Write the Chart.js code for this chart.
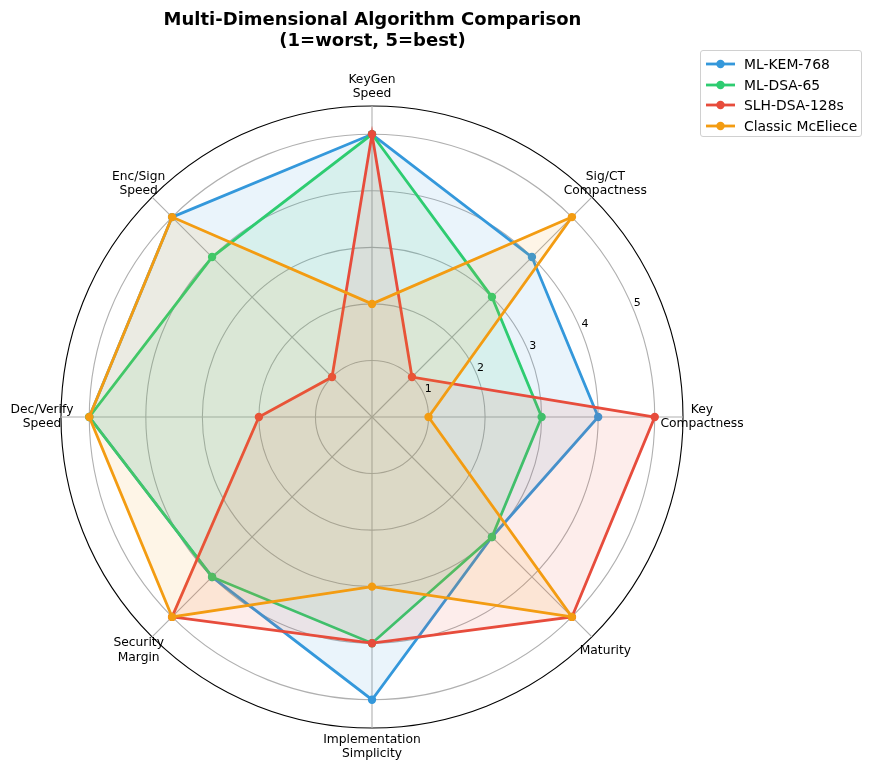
<!DOCTYPE html>
<html>
<head>
<meta charset="utf-8">
<script src="https://cdn.jsdelivr.net/npm/chart.js@4"></script>
<style>
  html, body { margin: 0; padding: 0; background: #fff; }
  #wrap { position: relative; width: 873px; height: 771px; overflow: hidden; font-family: "DejaVu Sans", sans-serif; }
  #c { position: absolute; left: 0; top: 0; }
  #title { position: absolute; left: 0; top: 8px; width: 745px; text-align: center; font-weight: bold; font-size: 18px; line-height: 21px; color: #000; }
  #legend { position: absolute; left: 700px; top: 50px; width: 160px; height: 85px; border: 1px solid #d0d0d0; border-radius: 3px; background: rgba(255,255,255,0.8); }
  .row { position: absolute; left: 5px; height: 20px; display: flex; align-items: center; font-size: 13.9px; color: #000; white-space: nowrap; }
  .row svg { margin-right: 9px; }
</style>
</head>
<body>
<div id="wrap">
  <canvas id="c" width="873" height="771"></canvas>
  <div id="title">Multi-Dimensional Algorithm Comparison<br>(1=worst, 5=best)</div>
  <div id="legend"></div>
</div>
<script>
// ---- data ----
const categories = [
  ['KeyGen', 'Speed'],
  ['Sig/CT', 'Compactness'],
  ['Key', 'Compactness'],
  ['Maturity'],
  ['Implementation', 'Simplicity'],
  ['Security', 'Margin'],
  ['Dec/Verify', 'Speed'],
  ['Enc/Sign', 'Speed']
];
const seriesNames = ['ML-KEM-768', 'ML-DSA-65', 'SLH-DSA-128s', 'Classic McEliece'];
const mlKem768 = [5, 4, 4, 3, 5, 4, 5, 5];
const mlDsa65 = [5, 3, 3, 3, 4, 4, 5, 4];
const slhDsa128s = [5, 1, 5, 5, 4, 5, 2, 1];
const classicMcEliece = [2, 5, 1, 5, 3, 5, 5, 5];
const tickLabels = [1, 2, 3, 4, 5];
const rMax = 5.5;

// ---- styles ----
const colors = ['#3498db', '#2ecc71', '#e74c3c', '#f39c12'];
const values = [mlKem768, mlDsa65, slhDsa128s, classicMcEliece];

function rgba(hex, a) {
  const n = parseInt(hex.slice(1), 16);
  return `rgba(${(n >> 16) & 255},${(n >> 8) & 255},${n & 255},${a})`;
}

const datasets = seriesNames.map((name, i) => ({
  label: name,
  data: values[i],
  borderColor: colors[i],
  backgroundColor: rgba(colors[i], 0.1),
  fill: true,
  borderWidth: 2.8,
  pointRadius: 4.2,
  pointBorderWidth: 0,
  pointBackgroundColor: colors[i],
  pointBorderColor: colors[i],
  tension: 0,
  order: seriesNames.length - i
}));

const axisText = {
  id: 'axisText',
  afterDraw(chart) {
    const s = chart.scales.r;
    const ctx = chart.ctx;
    ctx.save();
    ctx.fillStyle = '#000';
    ctx.textAlign = 'center';
    ctx.textBaseline = 'middle';
    ctx.font = '12.3px "DejaVu Sans"';
    categories.forEach((lines, i) => {
      const p = s.getPointPosition(i, s.drawingArea + 19);
      const lh = 14.6;
      lines.forEach((t, j) => {
        ctx.fillText(t, p.x, p.y + (j - (lines.length - 1) / 2) * lh);
      });
    });
    ctx.font = '11px "DejaVu Sans"';
    const ang = -22.5 * Math.PI / 180;
    tickLabels.forEach(v => {
      const d = s.getDistanceFromCenterForValue(v);
      ctx.fillText(String(v), s.xCenter + d * Math.cos(ang) + 4, s.yCenter + d * Math.sin(ang) - 6);
    });
    ctx.restore();
  }
};

new Chart(document.getElementById('c'), {
  type: 'radar',
  data: { labels: categories, datasets },
  options: {
    responsive: false,
    animation: false,
    devicePixelRatio: 1,
    layout: { padding: { left: 61, top: 106, right: 190, bottom: 43 } },
    plugins: { legend: { display: false }, title: { display: false }, tooltip: { enabled: false } },
    scales: {
      r: {
        min: 0,
        max: rMax,
        afterBuildTicks: (scale) => {
          scale.ticks = [0, ...tickLabels, rMax].map(v => ({ value: v }));
        },
        ticks: { display: false },
        pointLabels: { display: false },
        grid: {
          circular: true,
          color: (c) => (c.tick && c.tick.value === rMax) ? '#000000' : '#b0b0b0',
          lineWidth: 1.1
        },
        angleLines: { color: '#b0b0b0', lineWidth: 1.1 }
      }
    }
  },
  plugins: [axisText]
});

// ---- HTML legend ----
const legend = document.getElementById('legend');
seriesNames.forEach((name, i) => {
  const row = document.createElement('div');
  row.className = 'row';
  row.style.top = (3 + i * 20.5) + 'px';
  row.innerHTML = `<svg width="29" height="12"><line x1="0" y1="6" x2="29" y2="6" stroke="${colors[i]}" stroke-width="2.8"/><circle cx="14.5" cy="6" r="4.2" fill="${colors[i]}"/></svg><span>${name}</span>`;
  legend.appendChild(row);
});
</script>
</body>
</html>
